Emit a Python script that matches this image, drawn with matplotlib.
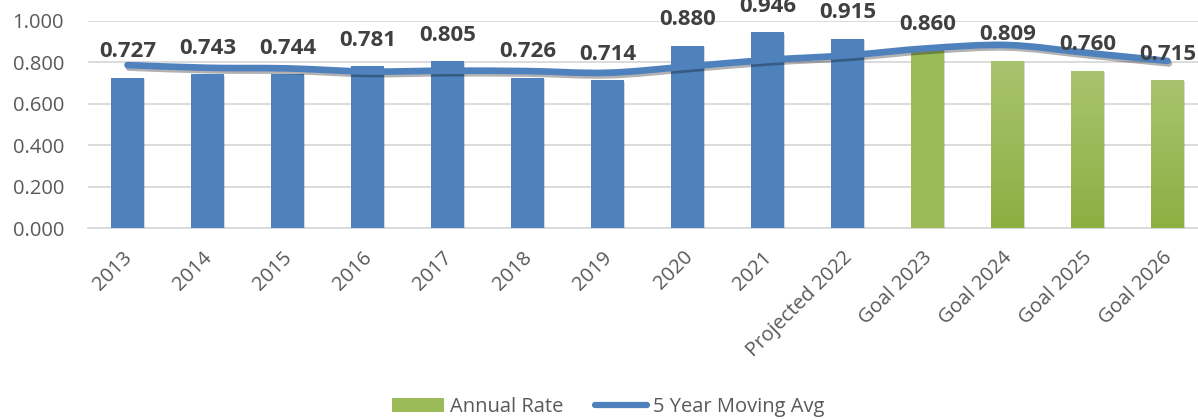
import numpy as np
import matplotlib
matplotlib.use("Agg")
import matplotlib.pyplot as plt
from matplotlib.path import Path
from matplotlib.patches import PathPatch, Patch
from matplotlib.lines import Line2D
import matplotlib.patheffects as pe
import matplotlib.transforms as mtrans
from matplotlib.colors import LinearSegmentedColormap

categories = ["2013", "2014", "2015", "2016", "2017", "2018", "2019", "2020",
              "2021", "Projected 2022", "Goal 2023", "Goal 2024", "Goal 2025", "Goal 2026"]
annual_rate = [0.727, 0.743, 0.744, 0.781, 0.805, 0.726, 0.714, 0.880,
               0.946, 0.915, 0.860, 0.809, 0.760, 0.715]
moving_avg = [0.787, 0.774, 0.771, 0.756, 0.760, 0.758, 0.750, 0.780,
              0.812, 0.834, 0.868, 0.884, 0.846, 0.807]
# bar kinds: 'actual' (blue), 'goal' (solid green), 'goalgrad' (gradient green)
bar_kind = ["actual"] * 10 + ["goal", "goalgrad", "goalgrad", "goalgrad"]
yticks = [0.0, 0.2, 0.4, 0.6, 0.8, 1.0]

BLUE = "#4F81BD"
GREEN = "#9BBB59"
TXT = "#595959"
LBL = "#404040"
FONT = "Open Sans"

W, H = 1198, 420
fig = plt.figure(figsize=(W / 100, H / 100), dpi=100)
ax = fig.add_axes([87.5 / W, (H - 228) / H, 1120 / W, 207 / H])

x = np.arange(len(categories))
colors = [BLUE if k == "actual" else GREEN for k in bar_kind]
shadow = [pe.SimplePatchShadow(offset=(1.0, -1.0), alpha=0.15, shadow_rgbFace="#000000"), pe.Normal()]
bars = ax.bar(x, annual_rate, width=0.41, color=colors, zorder=3)
for b in bars:
    b.set_path_effects(shadow)

grad_cmap = LinearSegmentedColormap.from_list("g", ["#8CAF42", "#A8C46F"])
for b, k in zip(bars, bar_kind):
    if k == "goalgrad":
        x0, w, h = b.get_x(), b.get_width(), b.get_height()
        g = np.linspace(0, 1, 256).reshape(-1, 1)
        im = ax.imshow(g, cmap=grad_cmap, origin="lower", aspect="auto",
                       extent=(x0, x0 + w, 0, h), zorder=3.5)
        im.set_clip_path(b)

# smoothed moving average line (cubic Bezier through data points)
pts = np.column_stack([x, moving_avg]).astype(float)
verts = [pts[0]]
codes = [Path.MOVETO]
n = len(pts)
for i in range(n - 1):
    p0 = pts[i - 1] if i > 0 else pts[i]
    p1 = pts[i]
    p2 = pts[i + 1]
    p3 = pts[i + 2] if i + 2 < n else pts[i + 1]
    c1 = p1 + (p2 - p0) / 6.0
    c2 = p2 - (p3 - p1) / 6.0
    verts += [c1, c2, p2]
    codes += [Path.CURVE4] * 3
path = Path(verts, codes)
line_patch = PathPatch(path, facecolor="none", edgecolor=BLUE, lw=4.8,
                       capstyle="round", joinstyle="round", zorder=5)
line_patch.set_path_effects([pe.SimpleLineShadow(offset=(1.0, -1.8), alpha=0.3), pe.Normal()])
ax.add_patch(line_patch)

for xi, v in zip(x, annual_rate):
    ax.annotate(f"{v:.3f}", (xi, v), xytext=(0, 18.7), textcoords="offset points",
                ha="center", va="center", fontsize=16, fontweight="bold",
                family=FONT, color=LBL, zorder=6, annotation_clip=False)

ax.set_xlim(-0.5, len(categories) - 0.5)
ax.set_ylim(0, 1.0)
ax.set_yticks(yticks)
ax.set_yticklabels([f"{t:.3f}" for t in yticks], family=FONT, fontsize=14.5, color=TXT)
ax.tick_params(axis="y", length=0, pad=17)
ax.set_xticks(x)
ax.set_xticklabels(categories, family=FONT, fontsize=14.5, color=TXT,
                   rotation=45, ha="right", va="center", rotation_mode="anchor")
ax.tick_params(axis="x", length=0, pad=19)
offset = mtrans.ScaledTranslation(2 / 100, 0, fig.dpi_scale_trans)
for lab in ax.get_xticklabels():
    lab.set_transform(lab.get_transform() + offset)

ax.grid(axis="y", color="#D9D9D9", lw=1.3, zorder=0)
ax.set_axisbelow(True)
for s in ["top", "right", "left"]:
    ax.spines[s].set_visible(False)
ax.spines["bottom"].set_color("#D9D9D9")
ax.spines["bottom"].set_linewidth(1.3)

handles = [Patch(facecolor=GREEN, edgecolor="none"),
           Line2D([0], [0], color=BLUE, lw=4.5, solid_capstyle="round")]
fig.legend(handles, ["Annual Rate", "5 Year Moving Avg"], loc="center",
           bbox_to_anchor=(608 / W, 1 - 407 / H), ncol=2, frameon=False,
           prop={"family": FONT, "size": 14.5}, labelcolor=TXT,
           handlelength=2.6, handleheight=0.65, handletextpad=0.25,
           columnspacing=1.6, borderpad=0)

fig.savefig("out.png", dpi=100)
